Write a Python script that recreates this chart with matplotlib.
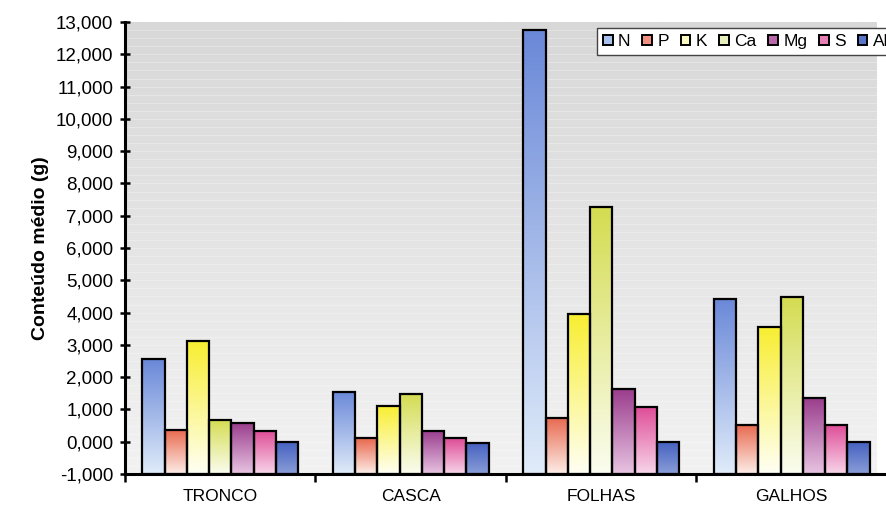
import numpy as np
import matplotlib
matplotlib.use('Agg')
import matplotlib.pyplot as plt
from matplotlib.patches import Patch
from matplotlib.colors import to_rgb

plt.rcParams['font.family'] = ['Liberation Sans', 'DejaVu Sans']

## data (thousands, shown with comma decimals)
categories = ['TRONCO', 'CASCA', 'FOLHAS', 'GALHOS']
series = ['N', 'P', 'K', 'Ca', 'Mg', 'S', 'Al']
N = [2.55, 1.55, 12.75, 4.43]
P = [0.37, 0.10, 0.74, 0.53]
K = [3.13, 1.11, 3.96, 3.56]
Ca = [0.68, 1.49, 7.27, 4.49]
Mg = [0.59, 0.34, 1.64, 1.36]
S = [0.34, 0.10, 1.08, 0.53]
Al = [0.0, -0.03, 0.0, 0.0]
yticks = np.arange(-1, 14, 1)

values = [N, P, K, Ca, Mg, S, Al]
# (top colour, bottom colour) for each series gradient
grads = [('#6a88d8', '#e0ecfa'),
         ('#e8684e', '#fdeee8'),
         ('#f8ee30', '#fffff4'),
         ('#d4dc50', '#fbfdf0'),
         ('#9a3c8c', '#e8c4e2'),
         ('#de4c96', '#f8d6ea'),
         ('#4460c0', '#8a9ed8')]
legend_cols = ['#a8c0ec', '#f09080', '#fbf8c0', '#e8eebc', '#b868a8', '#e880b8', '#5a74c8']

fig = plt.figure(figsize=(8.87, 5.08), dpi=100)
ax = fig.add_axes([125/887, 34/508, 1 - 125/887, 452/508])

ymin = -1
xlim = (-0.5, 3.5 - 11/193.5)

# plot area background
bg = np.linspace(0, 1, 256)
c_lo, c_hi = np.array(to_rgb('#f2f2f2')), np.array(to_rgb('#d8d8d8'))
bgimg = (c_lo[None, :] * (1 - bg[:, None]) + c_hi[None, :] * bg[:, None])[:, None, :]
ax.imshow(bgimg, extent=(xlim[0], xlim[1], ymin, 13), origin='lower', aspect='auto', zorder=0)
for yv in np.arange(-1, 13, 0.25):
    ax.axhline(yv, color='white', lw=0.4, alpha=0.5, zorder=1)

w = 0.117
x = np.arange(len(categories))
for i, (vals, (ctop, cbot)) in enumerate(zip(values, grads)):
    xs = x + (i - 3) * w
    bars = ax.bar(xs, np.array(vals) - ymin, w, bottom=ymin, facecolor='none',
                  edgecolor='black', linewidth=1.6, zorder=3)
    t = np.linspace(0, 1, 200)
    a, b = np.array(to_rgb(cbot)), np.array(to_rgb(ctop))
    img = (a[None, :] * (1 - t[:, None]) + b[None, :] * t[:, None])[:, None, :]
    for bar, xc, v in zip(bars, xs, vals):
        im = ax.imshow(img, extent=(xc - w/2, xc + w/2, ymin, v), origin='lower',
                       aspect='auto', zorder=2)
        im.set_clip_path(bar)

ax.set_xlim(*xlim)
ax.set_ylim(ymin, 13)
ax.set_yticks(yticks)
ax.set_yticklabels([f'{v:.3f}'.replace('.', ',') for v in yticks], fontsize=13.5)
ax.set_xticks(x)
ax.set_xticklabels(categories, fontsize=12.5)
ax.set_xticks(np.arange(-0.5, 4, 1), minor=True)
ax.tick_params(axis='x', which='major', length=0, pad=11)
ax.tick_params(axis='x', which='minor', length=6, width=1.8, direction='out')
ax.tick_params(axis='y', length=7, width=1.8, direction='inout', pad=5)

for s in ['top', 'right']:
    ax.spines[s].set_visible(False)
ax.spines['left'].set_linewidth(2.2)
ax.spines['bottom'].set_linewidth(2.2)

ax.set_ylabel('Conteúdo médio (g)', fontsize=14, fontweight='bold', labelpad=5)

handles = [Patch(facecolor=c, edgecolor='black', linewidth=1.4) for c in legend_cols]
leg = ax.legend(handles, series, loc='upper left', bbox_to_anchor=(597/887, 1 - 28/508),
                bbox_transform=fig.transFigure, ncol=7,
                fontsize=12.5, handlelength=0.55, handleheight=0.55, handletextpad=0.3,
                columnspacing=0.7, fancybox=False, framealpha=1, borderpad=0.35,
                borderaxespad=0)
leg.get_frame().set_edgecolor('#444444')
leg.get_frame().set_linewidth(1.0)

fig.savefig('out.png', dpi=100)
